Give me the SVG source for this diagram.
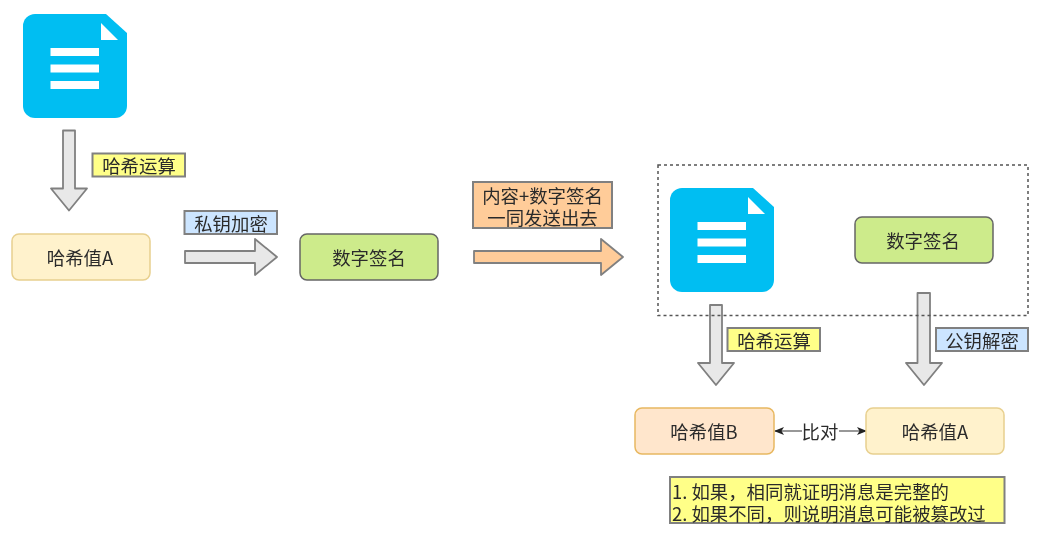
<svg xmlns="http://www.w3.org/2000/svg" width="1046" height="535" viewBox="0 0 1046 535">
<style>
text{font-family:"Noto Sans CJK SC","Liberation Sans",sans-serif;font-size:18.400px;fill:#2b2b2b;text-anchor:middle;dominant-baseline:central}
.note{text-anchor:start}
.box{stroke-width:1.500}
.tag{stroke:#808080;stroke-width:2}
.arrow{fill:#e8e8e8;stroke:#808080;stroke-width:1.800;stroke-linejoin:round}
.doc{fill:#00bef2}
.w{fill:#fff}
</style>
<defs>
<filter id="soft" filterUnits="userSpaceOnUse" x="0" y="0" width="1046" height="535"><feGaussianBlur stdDeviation="0.450"/></filter>
<marker id="tri" markerWidth="10" markerHeight="8" refX="9" refY="4" orient="auto-start-reverse" markerUnits="userSpaceOnUse"><path d="M0 0L10 4L0 8L2.500 4Z" fill="#222"/></marker>
<g id="docicon">
<path class="doc" d="M12 0H83L104 19V92A12 12 0 0 1 92 104H12A12 12 0 0 1 0 92V12A12 12 0 0 1 12 0Z"/>
<path class="w" d="M78 9L95 26H78Z"/>
<rect class="w" x="27.500" y="34" width="48.500" height="8"/>
<rect class="w" x="27.500" y="50.500" width="48.500" height="8"/>
<rect class="w" x="27.500" y="67" width="48.500" height="8"/>
</g>
</defs>
<g filter="url(#soft)">
<g id="connectors">
<path id="a1" class="arrow" d="M63 130.500H75V188.500H87L69 210.500L51 188.500H63Z"/>
<path id="a2" class="arrow" d="M185 251H255V239L277 257L255 275V263H185Z"/>
<path id="a3" class="arrow" style="fill:#ffcc99" d="M474 251H601V239L623 257L601 275V263H474Z"/>
<path id="a4" class="arrow" d="M710 305H722V363H734L716 385L698 363H710Z"/>
<path id="a5" class="arrow" d="M917.500 293H930V363H942L924 385L906 363H917.500Z"/>
<path id="a6" d="M775 431H802M839 431H866" fill="none" stroke="#333" stroke-width="1.200" marker-start="url(#tri)" marker-end="url(#tri)"/>
<text x="820" y="431">比对</text>
</g>
<g id="doc-source"><use href="#docicon" x="23" y="14"/></g>
<g id="tag-hash1"><rect class="tag" x="92.500" y="153.500" width="92.500" height="23" fill="#ffff88"/><text x="139" y="165">哈希运算</text></g>
<g id="hash-a1"><rect class="box" x="12" y="234" width="138" height="46" rx="7" fill="#fff2cc" stroke="#e8d08f"/><text x="80" y="257">哈希值A</text></g>
<g id="tag-private"><rect class="tag" x="184.500" y="211" width="92.500" height="23" fill="#cce5ff"/><text x="231" y="223">私钥加密</text></g>
<g id="sig1"><rect class="box" x="300" y="234" width="138" height="46" rx="7" fill="#cdeb8b" stroke="#666"/><text x="369" y="257">数字签名</text></g>
<g id="tag-send"><rect class="tag" x="473" y="182" width="139" height="46" fill="#ffcc99"/><text><tspan x="542.500" y="195">内容+数字签名</tspan><tspan x="542.500" y="217">一同发送出去</tspan></text></g>
<g id="bundle"><rect x="658" y="165" width="370" height="150.500" fill="none" stroke="#555" stroke-width="1.500" stroke-dasharray="3 3"/></g>
<g id="doc-bundle"><use href="#docicon" x="670" y="188"/></g>
<g id="sig2"><rect class="box" x="855" y="217" width="138" height="46" rx="7" fill="#cdeb8b" stroke="#666"/><text x="923" y="240">数字签名</text></g>
<g id="tag-hash2"><rect class="tag" x="727.500" y="328" width="92.500" height="23" fill="#ffff88"/><text x="774" y="340">哈希运算</text></g>
<g id="tag-public"><rect class="tag" x="936" y="328" width="92" height="23" fill="#cce5ff"/><text x="982" y="340">公钥解密</text></g>
<g id="hash-b"><rect class="box" x="635" y="408" width="139" height="46" rx="7" fill="#ffe6cc" stroke="#e8b860"/><text x="704" y="431">哈希值B</text></g>
<g id="hash-a2"><rect class="box" x="866" y="408" width="138" height="46" rx="7" fill="#fff2cc" stroke="#e8d08f"/><text x="935" y="431">哈希值A</text></g>
<g id="note"><rect class="tag" x="670" y="477" width="334.500" height="46" fill="#ffff88"/><text class="note"><tspan x="672" y="491">1. 如果，相同就证明消息是完整的</tspan><tspan x="672" y="513">2. 如果不同，则说明消息可能被篡改过</tspan></text></g>
</g>
</svg>
